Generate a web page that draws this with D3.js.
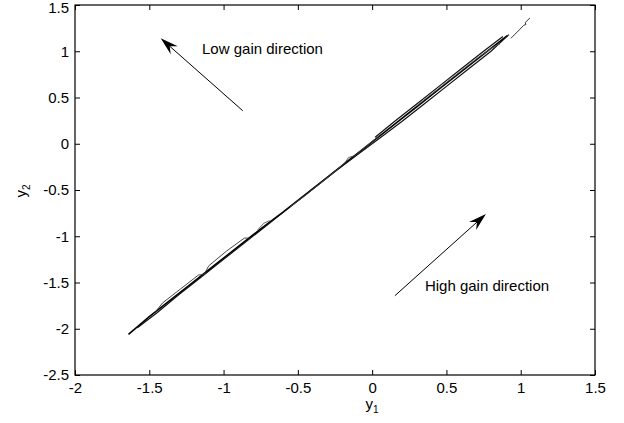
<!DOCTYPE html>
<html>
<head>
<meta charset="utf-8">
<script src="https://cdn.jsdelivr.net/npm/d3@7"></script>
<style>
  html, body { margin: 0; padding: 0; background: #fff; }
  svg { display: block; }
  text { font-family: "Liberation Sans", Arial, Helvetica, sans-serif; fill: #000; }
</style>
</head>
<body>
<svg id="chart" width="624" height="423"></svg>
<script>
// Axis ticks
const xTicks = [-2, -1.5, -1, -0.5, 0, 0.5, 1, 1.5];
const xTickLabels = ["-2", "-1.5", "-1", "-0.5", "0", "0.5", "1", "1.5"];
const yTicks = [-2.5, -2, -1.5, -1, -0.5, 0, 0.5, 1, 1.5];
const yTickLabels = ["-2.5", "-2", "-1.5", "-1", "-0.5", "0", "0.5", "1", "1.5"];

// Output trajectories (y1, y2)
const traceMain = [[-1.64,-2.06],[-1.50,-1.87],[-1.35,-1.68],[-1.20,-1.49],[-1.05,-1.30],[-0.90,-1.11],
  [-0.75,-0.92],[-0.60,-0.74],[-0.45,-0.55],[-0.30,-0.36],[-0.15,-0.17],[0.00,0.02],[0.15,0.21],
  [0.30,0.40],[0.45,0.59],[0.60,0.78],[0.75,0.97],[0.91,1.17]];
const traceReturn = [[0.92,1.18],[0.80,1.00],[0.65,0.81],[0.50,0.62],[0.35,0.43],[0.20,0.24],[0.05,0.06],
  [-0.10,-0.12],[-0.25,-0.30],[-0.40,-0.49],[-0.55,-0.68],[-0.70,-0.87],[-0.85,-1.06],[-1.00,-1.25],
  [-1.15,-1.44],[-1.30,-1.63],[-1.45,-1.83],[-1.58,-1.99]];
const traceUpper = [[0.02,0.07],[0.15,0.24],[0.30,0.43],[0.45,0.62],[0.60,0.81],[0.75,1.00],[0.88,1.16]];
const traceInner = [[0.30,0.41],[0.45,0.60],[0.60,0.79],[0.72,0.94],[0.80,1.03],[0.86,1.08]];
const traceLowLeft = [[-1.46,-1.82],[-1.41,-1.72],[-1.29,-1.57],[-1.17,-1.42],[-1.13,-1.41],[-1.10,-1.32],
  [-0.98,-1.16],[-0.86,-1.02],[-0.83,-1.02]];
const traceMid = [[-0.55,-0.68],[-0.45,-0.56],[-0.35,-0.43],[-0.25,-0.30],[-0.18,-0.20],[-0.16,-0.15],
  [-0.12,-0.13],[-0.05,-0.04],[0.05,0.09]];
const traceSpur = [[-0.77,-0.93],[-0.73,-0.86],[-0.69,-0.83]];
const traceEnd = [[0.934,1.14],[0.99,1.23],[1.02,1.28],[1.035,1.29],[1.03,1.31],[1.062,1.36]];

// Annotations: arrow tail -> tip, text anchor
const lowGainArrow = [[-0.871, 0.357], [-1.423, 1.14]];
const highGainArrow = [[0.153, -1.643], [0.766, -0.76]];
const lowGainText = { text: "Low gain direction", pos: [-1.145, 0.97] };
const highGainText = { text: "High gain direction", pos: [0.355, -1.589] };

const svg = d3.select("#chart");
const plotL = 75, plotR = 595, plotT = 5, plotB = 375;
const x = d3.scaleLinear().domain([-2, 1.5]).range([plotL, plotR]);
const y = d3.scaleLinear().domain([-2.5, 1.5]).range([plotB, plotT]);
const fontSize = "15px";

// Data lines
const line = d3.line().x(d => x(d[0])).y(d => y(d[1]));
const traces = [
  { data: traceMain, w: 1.6, c: "#000" },
  { data: traceReturn, w: 1.2, c: "#111" },
  { data: traceUpper, w: 1.2, c: "#111" },
  { data: traceInner, w: 0.9, c: "#555" },
  { data: traceLowLeft, w: 0.9, c: "#333" },
  { data: traceMid, w: 0.9, c: "#444" },
  { data: traceSpur, w: 0.8, c: "#444" },
  { data: traceEnd, w: 0.9, c: "#222" }
];
svg.append("g").selectAll("path").data(traces).join("path")
  .attr("d", d => line(d.data))
  .attr("fill", "none")
  .attr("stroke", d => d.c)
  .attr("stroke-width", d => d.w)
  .attr("stroke-linejoin", "round");

// Axes with inward ticks on all four sides
const xIdx = v => xTicks.indexOf(v);
const yIdx = v => yTicks.indexOf(v);
const gx = svg.append("g").attr("transform", `translate(0,${plotB})`)
  .call(d3.axisBottom(x).tickValues(xTicks).tickSizeInner(-5).tickSizeOuter(0).tickPadding(7)
    .tickFormat(v => xTickLabels[xIdx(v)]));
const gy = svg.append("g").attr("transform", `translate(${plotL},0)`)
  .call(d3.axisLeft(y).tickValues(yTicks).tickSizeInner(-5).tickSizeOuter(0).tickPadding(6)
    .tickFormat(v => yTickLabels[yIdx(v)]));
const gxt = svg.append("g").attr("transform", `translate(0,${plotT})`)
  .call(d3.axisTop(x).tickValues(xTicks).tickSizeInner(-5).tickSizeOuter(0).tickFormat(""));
const gyr = svg.append("g").attr("transform", `translate(${plotR},0)`)
  .call(d3.axisRight(y).tickValues(yTicks).tickSizeInner(-5).tickSizeOuter(0).tickFormat(""));
[gx, gy, gxt, gyr].forEach(g => {
  g.select(".domain").remove();
  g.selectAll(".tick line").attr("stroke", "#000");
  g.selectAll("text").style("font-size", fontSize).attr("fill", "#000");
  g.attr("font-family", null).attr("font-size", null);
});
// keep the top tick label inside the canvas
gy.selectAll(".tick").filter(v => v === 1.5).select("text").attr("dy", "0.5em");
svg.append("rect")
  .attr("x", plotL).attr("y", plotT).attr("width", plotR - plotL).attr("height", plotB - plotT)
  .attr("fill", "none").attr("stroke", "#000").attr("stroke-width", 1.2);

// Axis labels
const xl = svg.append("text").attr("x", 372).attr("y", 409).attr("text-anchor", "middle").style("font-size", fontSize);
xl.append("tspan").text("y");
xl.append("tspan").attr("dy", 4).style("font-size", "10px").text("1");
const yl = svg.append("text").attr("transform", "translate(26,191) rotate(-90)").attr("text-anchor", "middle").style("font-size", fontSize);
yl.append("tspan").text("y");
yl.append("tspan").attr("dy", 4).style("font-size", "10px").text("2");

// Annotation arrows
function arrow(pts) {
  const [x0, y0] = [x(pts[0][0]), y(pts[0][1])];
  const [x1, y1] = [x(pts[1][0]), y(pts[1][1])];
  const len = Math.hypot(x1 - x0, y1 - y0);
  const ux = (x1 - x0) / len, uy = (y1 - y0) / len;
  const px = -uy, py = ux;
  const headLen = 18, half = 5.3, notch = 12;
  svg.append("line")
    .attr("x1", x0).attr("y1", y0)
    .attr("x2", x1 - ux * notch).attr("y2", y1 - uy * notch)
    .attr("stroke", "#000").attr("stroke-width", 1);
  const head = [
    [x1, y1],
    [x1 - ux * headLen + px * half, y1 - uy * headLen + py * half],
    [x1 - ux * notch, y1 - uy * notch],
    [x1 - ux * headLen - px * half, y1 - uy * headLen - py * half]
  ];
  svg.append("path").attr("d", "M" + head.map(p => p.join(",")).join("L") + "Z").attr("fill", "#000");
}
arrow(lowGainArrow);
arrow(highGainArrow);

[lowGainText, highGainText].forEach(t => {
  svg.append("text").attr("x", x(t.pos[0])).attr("y", y(t.pos[1]))
    .style("font-size", fontSize).text(t.text);
});
</script>
</body>
</html>
